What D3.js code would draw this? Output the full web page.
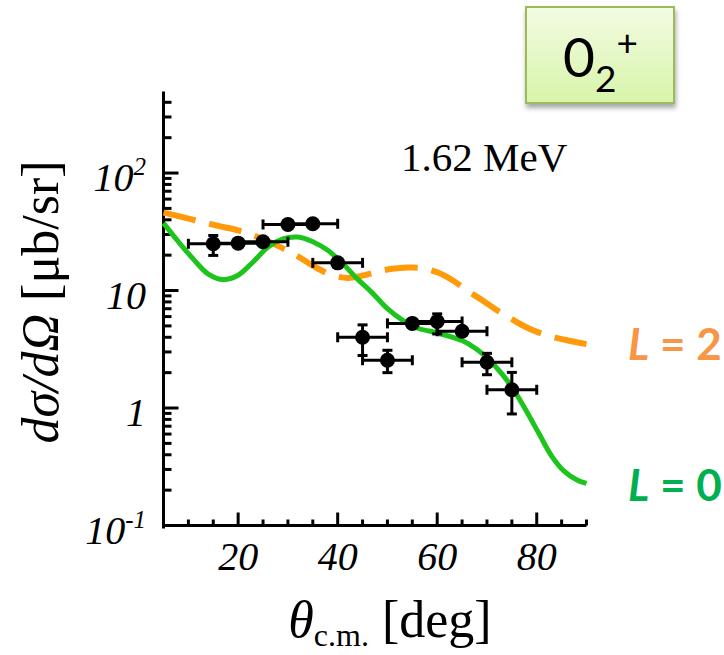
<!DOCTYPE html>
<html>
<head>
<meta charset="utf-8">
<script src="https://cdn.jsdelivr.net/npm/d3@7"></script>
<style>
  html, body { margin: 0; padding: 0; background: #fff; }
  svg { display: block; }
</style>
</head>
<body>
<svg id="chart" width="724" height="655"></svg>
<script>
// Measured angular distribution, 1.62 MeV state
const angles   = [15, 20, 25, 30, 35, 40, 45, 50, 55, 60, 65, 70, 75];
const xsec     = [25, 25.3, 26, 36.5, 37, 17.2, 4.0, 2.55, 5.25, 5.45, 4.5, 2.45, 1.43];
const xsecLow  = [19.9, 25.3, 26, 36.5, 37, 17.2, 2.8, 2.0, 5.25, 4.27, 4.5, 1.92, 0.89];
const xsecHigh = [29.4, 25.3, 26, 36.5, 37, 17.2, 5.1, 3.1, 5.25, 6.33, 4.5, 2.92, 2.01];
const angleHalfWidth = [5, 5, 5, 5, 5, 5, 5, 5, 5, 5, 5, 5, 5];

// DWBA curve, L = 0
const l0Angles = [5, 8, 11, 14, 17, 20, 23, 26, 29, 32, 35, 38, 41, 44, 47, 50, 53, 56, 60, 65, 68, 70.5, 73, 75.5, 78, 80.5, 83, 85.5, 88, 90];
const l0Values = [37.5, 26, 18.5, 13.8, 12.4, 13.5, 17.5, 23.5, 27.5, 28.5, 26, 22, 17, 12.5, 9.5, 7, 5.6, 4.8, 4.35, 3.75, 3.15, 2.55, 1.95, 1.4, 0.93, 0.6, 0.39, 0.29, 0.245, 0.228];

// DWBA curve, L = 2
const l2Angles = [5, 8, 12, 16, 20, 24, 28, 32, 36, 39, 42, 45, 48, 51, 54, 57, 60, 63, 66, 69, 72, 75, 78, 81, 84, 87, 90];
const l2Values = [46, 43, 39, 35.5, 32.5, 28.5, 24, 19.5, 15.4, 13.5, 12.8, 13.4, 14.5, 15.3, 15.7, 15.5, 14.3, 12.3, 10.0, 8.3, 6.8, 5.7, 4.85, 4.3, 3.95, 3.7, 3.5];

const xMajorTicks = [20, 40, 60, 80];
const xMinorTicks = [5, 10, 15, 25, 30, 35, 45, 50, 55, 65, 70, 75, 85, 90];
const yMajorTicks = [0.1, 1, 10, 100];
const yTickBase = ["10", "1", "10", "10"];
const yTickExp  = ["-1", "", "", "2"];

const svg = d3.select("#chart");
const serif = "Liberation Serif";
const sans = "Lato";

const x = d3.scaleLinear().domain([5, 90]).range([163.5, 586.5]);
const y = d3.scaleLog().domain([0.1, 480]).range([525.5, 93]);

// ---- axes frame ----
const axisG = svg.append("g").attr("stroke", "#000").attr("stroke-width", 3);
axisG.append("line")
  .attr("x1", x(5)).attr("x2", x(5))
  .attr("y1", y(480)).attr("y2", y(0.1) + 1.5)
  .attr("stroke-linecap", "square");
axisG.append("line")
  .attr("x1", x(5)).attr("x2", x(90))
  .attr("y1", y(0.1)).attr("y2", y(0.1));

// x ticks (pointing inward)
xMajorTicks.forEach(t => {
  axisG.append("line").attr("x1", x(t)).attr("x2", x(t))
    .attr("y1", y(0.1)).attr("y2", y(0.1) - 13);
});
xMinorTicks.forEach(t => {
  axisG.append("line").attr("x1", x(t)).attr("x2", x(t))
    .attr("y1", y(0.1)).attr("y2", y(0.1) - 6);
});

// y ticks: decades plus 2..9 minors
const yMinor = [];
[0.1, 1, 10, 100].forEach(d => {
  for (let k = 2; k <= 9; k++) {
    const v = d * k;
    if (v <= 480) yMinor.push(v);
  }
});
yMajorTicks.forEach(t => {
  axisG.append("line").attr("x1", x(5)).attr("x2", x(5) + 15)
    .attr("y1", y(t)).attr("y2", y(t));
});
yMinor.forEach(t => {
  axisG.append("line").attr("x1", x(5)).attr("x2", x(5) + 8)
    .attr("y1", y(t)).attr("y2", y(t));
});

// x tick labels
svg.append("g").selectAll("text").data(xMajorTicks).join("text")
  .attr("x", d => x(d)).attr("y", 570)
  .attr("text-anchor", "middle")
  .attr("font-family", serif).attr("font-style", "italic")
  .attr("font-size", 40).attr("fill", "#000")
  .text(d => d);

// y tick labels
const yl = svg.append("g").selectAll("text").data(yMajorTicks).join("text")
  .attr("x", 146).attr("y", d => y(d) + 18)
  .attr("text-anchor", "end")
  .attr("font-family", serif).attr("font-style", "italic")
  .attr("font-size", 40).attr("fill", "#000");
yl.each(function(d, i) {
  const t = d3.select(this);
  t.append("tspan").text(yTickBase[i]);
  if (yTickExp[i]) {
    t.append("tspan").attr("dy", -16).attr("font-size", 25).text(yTickExp[i]);
  }
});

// axis titles
const xt = svg.append("text")
  .attr("x", 390).attr("y", 637)
  .attr("text-anchor", "middle")
  .attr("font-family", serif).attr("font-size", 52).attr("fill", "#000");
xt.append("tspan").attr("font-style", "italic").text("θ");
xt.append("tspan").attr("font-size", 32).attr("dy", 9).text("c.m.");
xt.append("tspan").attr("dy", -9).text(" [deg]");

const yt = svg.append("text")
  .attr("transform", "translate(58,302) rotate(-90)")
  .attr("text-anchor", "middle")
  .attr("font-family", serif).attr("font-size", 52).attr("fill", "#000");
yt.append("tspan").attr("font-family", serif).attr("font-style", "italic").text("dσ/dΩ");
yt.append("tspan").attr("font-family", serif).text(" [μb/sr]");

// energy label
svg.append("text")
  .attr("x", 401).attr("y", 171)
  .attr("font-family", serif).attr("font-size", 41).attr("fill", "#000")
  .text("1.62 MeV");

// ---- model curves ----
const line = d3.line()
  .x(d => x(d[0])).y(d => y(d[1]))
  .curve(d3.curveCatmullRom.alpha(0.5));

svg.append("path")
  .datum(l2Angles.map((a, i) => [a, l2Values[i]]))
  .attr("d", line)
  .attr("fill", "none").attr("stroke", "#ff9a0a")
  .attr("stroke-width", 6).attr("stroke-dasharray", "33,14");

svg.append("path")
  .datum(l0Angles.map((a, i) => [a, l0Values[i]]))
  .attr("d", line)
  .attr("fill", "none").attr("stroke", "#1cc41c")
  .attr("stroke-width", 5);

// ---- data points with error bars ----
const pts = angles.map((a, i) => ({
  a, v: xsec[i], lo: xsecLow[i], hi: xsecHigh[i], dx: angleHalfWidth[i]
}));
const pg = svg.append("g").attr("stroke", "#000").attr("stroke-width", 3);
pts.forEach(p => {
  const cx = x(p.a), cy = y(p.v);
  pg.append("line").attr("x1", x(p.a - p.dx)).attr("x2", x(p.a + p.dx))
    .attr("y1", cy).attr("y2", cy);
  [p.a - p.dx, p.a + p.dx].forEach(e => {
    pg.append("line").attr("x1", x(e)).attr("x2", x(e))
      .attr("y1", cy - 5).attr("y2", cy + 5);
  });
  if (p.hi !== p.lo) {
    pg.append("line").attr("x1", cx).attr("x2", cx)
      .attr("y1", y(p.hi)).attr("y2", y(p.lo));
    [p.hi, p.lo].forEach(e => {
      pg.append("line").attr("x1", cx - 5).attr("x2", cx + 5)
        .attr("y1", y(e)).attr("y2", y(e));
    });
  }
});
svg.append("g").selectAll("circle").data(pts).join("circle")
  .attr("cx", d => x(d.a)).attr("cy", d => y(d.v))
  .attr("r", 7.5).attr("fill", "#000");

// ---- curve labels ----
function curveLabel(txt, yPos, color) {
  const t = svg.append("text")
    .attr("x", 628).attr("y", yPos)
    .attr("font-family", sans).attr("font-weight", "bold")
    .attr("font-size", 44).attr("fill", color);
  t.append("tspan").attr("font-style", "italic").text("L");
  t.append("tspan").text(" = " + txt);
}
curveLabel("2", 360, "#f79646");
curveLabel("0", 501, "#00b050");

// ---- state label box ----
const defs = svg.append("defs");
const grad = defs.append("linearGradient").attr("id", "boxFill")
  .attr("x1", 0).attr("y1", 0).attr("x2", 0).attr("y2", 1);
grad.append("stop").attr("offset", "0%").attr("stop-color", "#f3fce3");
grad.append("stop").attr("offset", "100%").attr("stop-color", "#d8f4aa");
const shadow = defs.append("filter").attr("id", "boxShadow")
  .attr("x", "-10%").attr("y", "-10%").attr("width", "130%").attr("height", "140%");
shadow.append("feDropShadow").attr("dx", 1).attr("dy", 4)
  .attr("stdDeviation", 2.5).attr("flood-color", "#000").attr("flood-opacity", 0.35);

svg.append("rect")
  .attr("x", 526).attr("y", 7).attr("width", 148).attr("height", 96)
  .attr("fill", "url(#boxFill)").attr("stroke", "#9bbb59").attr("stroke-width", 2)
  .attr("filter", "url(#boxShadow)");

const bt = svg.append("text")
  .attr("x", 563).attr("y", 77)
  .attr("font-family", sans).attr("font-size", 55).attr("fill", "#000");
bt.append("tspan").text("0");
bt.append("tspan").attr("font-size", 37).attr("dy", 15).text("2");
bt.append("tspan").attr("font-size", 37).attr("dy", -36).text("+");
</script>
</body>
</html>
